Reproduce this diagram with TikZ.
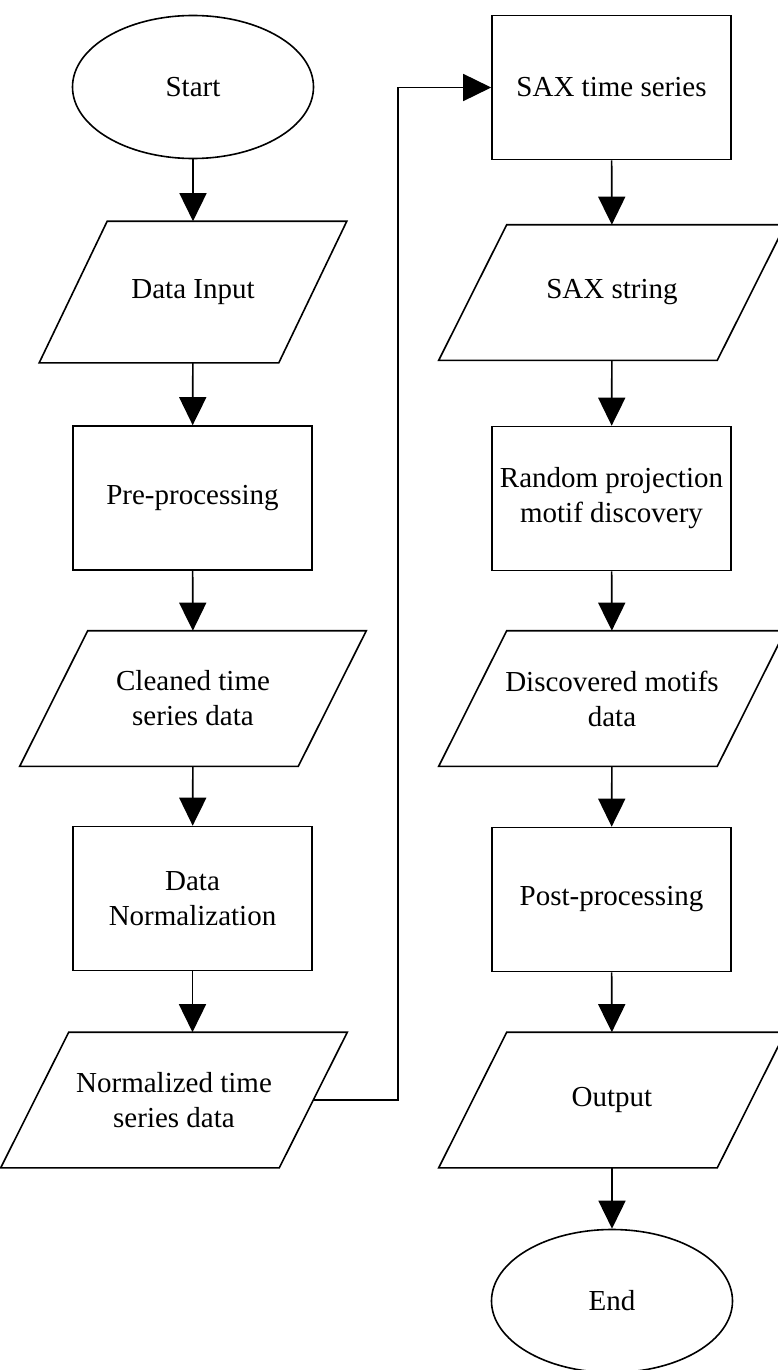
\documentclass[tikz,border=0pt]{standalone}
\usepackage{fontspec}
\setmainfont{Liberation Serif}
\usetikzlibrary{shapes.geometric,arrows.meta}

\tikzset{>={Triangle[length=28pt,width=27pt]}}
\tikzset{
	terminal/.style={draw,ellipse,minimum width=241pt,minimum height=143pt,inner sep=0pt,align=center},
	process/.style={draw,rectangle,minimum width=239pt,minimum height=144pt,inner sep=0pt,align=center},
	data/.style={rectangle,minimum width=277pt,minimum height=134pt,inner sep=0pt,align=center}
}

\begin{document}
\begin{tikzpicture}[x=1pt,y=-1pt,line width=1.6pt,font=\fontsize{29}{35}\selectfont]
		\newcommand{\halfSlant}{34}
		
		\useasboundingbox (0,0) rectangle (777,1370);
		\fill[white] (0,0) rectangle (777,1370);		% background
		
		% left column
		\node[terminal] (start) at (193,87) {Start};
		\node[data,minimum width=238pt,minimum height=140pt] (input) at (193,292) {Data Input};
		\node[process] (pre) at (192.5,498) {Pre-processing};
		\node[data] (cleaned) at (193,698.5) {Cleaned time\\series data};
		\node[process] (norm) at (192.5,898.5) {Data\\Normalization};
		\node[data] (normts) at (174,1100) {Normalized time\\series data};	% shifted left
		
		% right column
		\node[process] (saxts) at (611.5,87.5) {SAX time series};
		\node[data] (saxstr) at (612,292.5) {SAX string};
		\node[process] (random) at (611.5,498.5) {Random projection\\motif discovery};
		\node[data] (motifs) at (612,698.5) {Discovered motifs\\data};
		\node[process] (post) at (611.5,899.5) {Post-processing};
		\node[data] (output) at (612,1100) {Output};
		\node[terminal] (end) at (612,1301) {End};
		
		% slanted data boxes
		\foreach \n in {input,cleaned,normts,saxstr,motifs,output}
			\draw ([xshift=-\halfSlant pt]\n.south west) -- ([xshift=-\halfSlant pt]\n.south east) -- ([xshift=\halfSlant pt]\n.north east) -- ([xshift=\halfSlant pt]\n.north west) -- cycle;
		
		% arrows
		\draw[->] (start) -- (input);
		\draw[->] (input) -- (pre);
		\draw[->] (pre) -- (cleaned);
		\draw[->] (cleaned) -- (norm);
		\draw[->] (norm.south) -- (norm.south |- normts.north);
		
		\coordinate (turn) at (398,1100);	% column jump
		\draw[->] (normts.east) -- (turn) |- (saxts.west);
		
		\draw[->] (saxts) -- (saxstr);
		\draw[->] (saxstr) -- (random);
		\draw[->] (random) -- (motifs);
		\draw[->] (motifs) -- (post);
		\draw[->] (post) -- (output);
		\draw[->] (output) -- (end);
\end{tikzpicture}
\end{document}
